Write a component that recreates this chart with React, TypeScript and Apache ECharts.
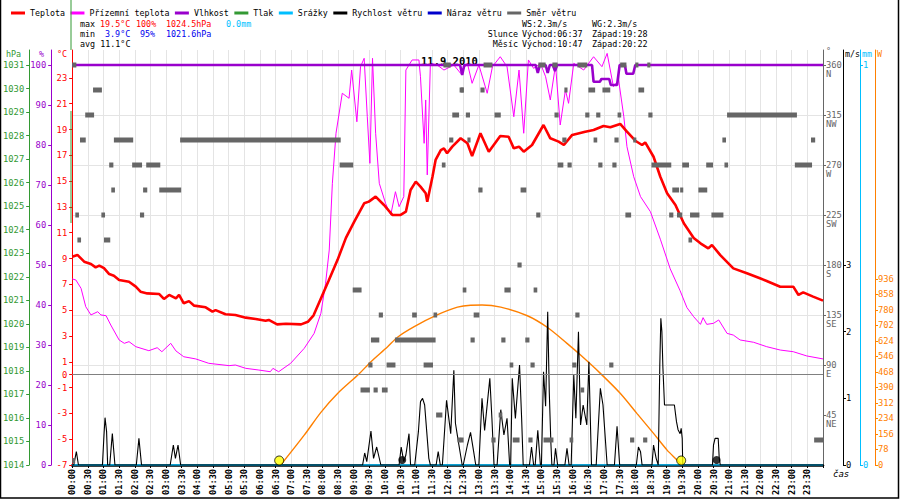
import React, { useEffect, useRef } from 'react';
import * as echarts from 'echarts';

const MONO = "'DejaVu Sans Mono', monospace";

// x values are minutes since midnight
const tempData: [number, number][] = [
  [0, 9.14], [10, 9.28], [23, 8.76], [36, 8.58], [45, 8.32], [52, 8.45], [61, 8.25], [71, 7.8], [80, 7.67], [90, 7.34],
  [109, 7.2], [122, 6.82], [131, 6.43], [144, 6.3], [167, 6.25], [176, 5.87], [186, 6.18], [199, 5.92], [205, 6.18],
  [214, 5.53], [224, 5.7], [234, 5.35], [256, 5.22], [269, 4.88], [275, 5.0], [294, 4.68], [313, 4.63], [333, 4.42],
  [352, 4.32], [371, 4.18], [377, 4.24], [393, 3.9], [410, 3.95], [439, 3.9], [452, 4.1], [463, 4.6], [477, 5.9],
  [492, 7.3], [509, 8.9], [525, 10.6], [541, 11.86], [560, 13.28], [569, 13.41], [582, 13.8], [598, 13.15], [614, 12.38],
  [630, 12.38], [640, 12.63], [649, 14.31], [659, 14.96], [668, 14.57], [678, 14.06], [681, 13.41], [691, 15.34],
  [697, 16.64], [707, 17.41], [713, 17.54], [719, 17.16], [729, 17.67], [745, 18.32], [758, 17.93], [767, 16.95],
  [783, 18.71], [799, 17.28], [821, 18.5], [837, 18.44], [847, 17.54], [857, 17.67], [866, 17.28], [882, 17.8],
  [904, 19.35], [917, 18.32], [933, 18.06], [943, 17.8], [959, 18.58], [984, 18.83], [1000, 18.96], [1019, 19.27],
  [1032, 19.17], [1051, 19.43], [1064, 18.83], [1080, 18.13], [1093, 17.8], [1099, 18.0], [1115, 16.89], [1128, 15.34],
  [1141, 14.06], [1157, 13.15], [1173, 11.73], [1192, 10.6], [1205, 10.18], [1220, 9.79], [1227, 10.05], [1243, 9.27],
  [1268, 8.24], [1294, 7.86], [1319, 7.47], [1332, 7.26], [1358, 6.82], [1383, 6.82], [1393, 6.18], [1402, 6.38],
  [1421, 6.05], [1440, 5.74],
];

const feelData: [number, number][] = [
  [0, 7.42], [7, 7.34], [17, 6.69], [26, 5.27], [36, 4.63], [49, 4.88], [55, 4.63], [65, 4.57], [74, 3.85], [90, 2.69],
  [100, 2.43], [109, 2.56], [122, 2.17], [147, 1.86], [163, 2.09], [172, 1.78], [189, 2.43], [199, 1.84], [214, 1.39],
  [237, 1.22], [262, 0.88], [301, 0.7], [313, 0.75], [333, 0.49], [358, 0.36], [380, 0.23], [385, 0.49], [396, 0.23],
  [419, 0.88], [445, 2.04], [464, 3.2], [477, 4.76], [486, 7.08], [493, 9.66], [499, 14.83], [506, 18.71], [518, 21.81],
  [531, 21.42], [536, 23.61], [546, 19.6], [553, 23.87], [560, 24.52], [566, 19.99], [571, 16.38], [576, 24.52],
  [582, 18.71], [589, 14.83], [601, 13.28], [611, 12.38], [620, 14.18], [627, 13.02], [636, 13.8], [640, 23.61],
  [652, 24.39], [665, 24.39], [668, 23.09], [675, 17.93], [678, 21.29], [681, 15.48], [687, 24.13], [700, 24.0],
  [713, 23.61], [732, 24.0], [745, 23.35], [758, 24.13], [767, 22.58], [780, 24.0], [796, 21.81], [806, 23.87],
  [821, 24.64], [834, 23.87], [847, 19.99], [857, 23.61], [866, 18.71], [875, 24.39], [885, 23.74], [898, 24.13],
  [908, 23.09], [917, 21.29], [927, 24.0], [936, 19.35], [946, 22.06], [952, 21.03], [962, 24.13], [981, 23.61],
  [1000, 24.64], [1016, 23.87], [1026, 24.9], [1038, 22.32], [1048, 22.84], [1058, 19.99], [1064, 17.67], [1077, 15.34],
  [1090, 13.8], [1109, 12.63], [1128, 10.5], [1147, 8.2], [1166, 6.5], [1179, 5.2], [1192, 4.49], [1205, 3.9],
  [1210, 4.42], [1217, 3.9], [1230, 3.98], [1240, 4.24], [1256, 3.2], [1268, 3.07], [1281, 2.69], [1307, 2.51],
  [1332, 2.17], [1358, 1.91], [1383, 1.78], [1409, 1.45], [1440, 1.22],
];

const humidityData: [number, number][] = [
  [0, 100], [744, 100], [748, 97.5], [752, 100], [889, 100], [893, 98], [897, 100], [908, 100], [912, 98], [916, 100],
  [922, 100], [926, 98.5], [930, 100], [997, 100], [1000, 95.8], [1012, 95.8], [1015, 96.5], [1030, 96.5], [1033, 95],
  [1045, 95], [1050, 100], [1060, 100], [1063, 97.8], [1076, 97.8], [1080, 100], [1440, 100],
];

const windSpeedData: [number, number][] = [
  [0, 0], [3, 0], [8, 0.2], [12, 0],
  [58, 0], [61, 0.45], [63, 0.71], [66, 0.5], [68, 0],
  [72, 0], [77, 0.47], [82, 0],
  [123, 0], [128, 0.4], [133, 0],
  [188, 0], [194, 0.3], [198, 0.1], [203, 0.3], [208, 0],
  [557, 0], [561, 0.18], [565, 0.05], [573, 0.51], [578, 0.1], [584, 0.27], [592, 0],
  [627, 0], [631, 0.27], [636, 0.05], [640, 0.15], [646, 0.47], [649, 0],
  [657, 0], [664, 0.5], [668, 0.95], [672, 1.0], [676, 0.9], [680, 0.5], [684, 0.1], [687, 0],
  [698, 0], [702, 0.2], [706, 0],
  [710, 0], [718, 0.97], [726, 0.47], [732, 1.42], [735, 0.63], [740, 0.38], [748, 0],
  [750, 0], [758, 0.3], [764, 0.49], [770, 0.2], [774, 0],
  [780, 0], [786, 1.0], [791, 0.52], [801, 1.3], [805, 0.7], [809, 0],
  [815, 0], [822, 0.83], [828, 0.45], [834, 0.7], [839, 0],
  [841, 0], [844, 1.3], [850, 0.7], [858, 1.5], [862, 0.7], [865, 0],
  [877, 0], [881, 0.27], [885, 0],
  [888, 0], [893, 0.52], [898, 0],
  [900, 0], [904, 1.4], [908, 0.88], [912, 2.3], [915, 1.1], [918, 0.35], [920, 0],
  [924, 0], [927, 0.25], [931, 0],
  [945, 0], [949, 0.25], [953, 0],
  [957, 0], [962, 1.35], [966, 0.7], [971, 2.0], [975, 0.6], [980, 0.9], [987, 0.6], [991, 1.55], [996, 0],
  [1005, 0], [1013, 1.15], [1018, 0.9], [1026, 0],
  [1040, 0], [1045, 0.58], [1050, 0],
  [1082, 0], [1086, 0.27], [1090, 0.2], [1093, 0],
  [1112, 0], [1115, 0.3], [1120, 0.1], [1124, 0], [1127, 1.5], [1129, 2.2], [1131, 2.0], [1133, 1.45], [1136, 0.9],
  [1155, 0.9], [1159, 0.65], [1162, 0.53], [1166, 0.47], [1168, 0.55], [1170, 0.4], [1171, 0],
  [1228, 0], [1230, 0.3], [1233, 0.4], [1239, 0.4], [1241, 0.1], [1243, 0],
  [1440, 0],
];

const precipData: [number, number][] = [[0, 0], [1440, 0]];
const pressureData: [number, number][] = [];
const gustData: [number, number][] = [];

const solarData: [number, number][] = [
  [400, 0], [445, 150], [477, 265], [509, 360], [550, 458], [573, 520], [605, 595], [624, 643], [656, 696], [700, 755],
  [739, 794], [764, 804], [786, 805], [822, 794], [873, 751], [911, 693], [949, 612], [975, 553], [1013, 461],
  [1051, 361], [1083, 260], [1115, 159], [1141, 75], [1160, 25], [1169, 0],
];

// [start minute, end minute, direction in degrees]
const windDirBlocks: [number, number, number][] = [
  [0, 8, 360], [0, 4, 4], [40, 57, 337.5], [25, 42, 315], [15, 26, 292.5], [80, 117, 292.5], [207, 515, 292.5],
  [71, 79, 270], [115, 134, 270], [142, 169, 270], [513, 539, 270], [75, 82, 247.5], [136, 144, 247.5], [167, 209, 247.5],
  [6, 13, 225], [56, 63, 225], [130, 138, 225], [10, 17, 202.5], [61, 73, 202.5],
  [538, 555, 157.5], [749, 756, 157.5], [588, 596, 135], [652, 661, 135], [693, 700, 135],
  [573, 589, 112.5], [619, 697, 112.5], [568, 576, 90], [603, 620, 90], [674, 692, 90],
  [553, 571, 67.5], [578, 586, 67.5], [594, 605, 67.5], [698, 710, 45],
  [743, 751, 337.5], [729, 742, 315], [755, 763, 315], [723, 731, 292.5], [758, 764, 292.5], [709, 716, 270],
  [712, 726, 360], [739, 746, 22.5],
  [789, 806, 360], [894, 908, 360], [921, 931, 360], [969, 988, 360], [1051, 1063, 360], [1080, 1086, 360], [1103, 1109, 360],
  [745, 751, 337.5], [783, 791, 337.5], [944, 950, 337.5], [990, 1003, 337.5], [1017, 1032, 337.5], [1086, 1097, 337.5],
  [810, 822, 315], [925, 933, 315], [984, 992, 315], [1005, 1013, 315], [1046, 1053, 315], [1105, 1113, 315],
  [940, 948, 292.5], [1000, 1007, 292.5], [1040, 1048, 292.5], [1076, 1082, 292.5],
  [931, 942, 270], [950, 958, 270], [1009, 1017, 270], [1036, 1044, 270], [1111, 1149, 270], [1170, 1183, 270],
  [779, 787, 247.5], [860, 871, 247.5], [1151, 1164, 247.5], [1166, 1172, 247.5], [1201, 1218, 247.5],
  [890, 898, 225], [1061, 1072, 225], [1145, 1153, 225], [1160, 1170, 225], [1185, 1203, 225],
  [1182, 1189, 202.5], [854, 862, 180], [829, 841, 157.5], [885, 892, 157.5],
  [770, 781, 135], [965, 973, 135], [764, 772, 112.5], [823, 831, 112.5], [869, 877, 112.5],
  [839, 846, 90], [879, 887, 90], [959, 967, 90], [1030, 1038, 90], [975, 982, 67.5], [818, 825, 45],
  [745, 749, 22.5], [804, 812, 22.5], [845, 858, 22.5], [875, 883, 22.5], [904, 923, 22.5], [954, 961, 22.5],
  [1070, 1078, 22.5], [1095, 1103, 22.5],
  [1256, 1390, 315], [1247, 1254, 292.5], [1417, 1425, 292.5], [1216, 1229, 270], [1251, 1258, 270], [1386, 1419, 270],
  [1226, 1249, 225], [1423, 1440, 22.5],
];

const sunEvents: [number, number][] = [[397, 0], [1168, 0]];
const moonEvents: [number, number][] = [[633, 0], [1236, 0]];

const tempTicks = [-7, -5, -3, -1, 0, 1, 3, 5, 7, 9, 11, 13, 15, 17, 19, 21, 23];
const humidityTicks = [0, 10, 20, 30, 40, 50, 60, 70, 80, 90, 100];
const pressureTicks = [1014, 1015, 1016, 1017, 1018, 1019, 1020, 1021, 1022, 1023, 1024, 1025, 1026, 1027, 1028, 1029, 1030, 1031];
const dirTicks = [45, 90, 135, 180, 225, 270, 315, 360];
const dirNames = ['NE', 'E', 'SE', 'S', 'SW', 'W', 'NW', 'N'];
const windTicks = [0, 1, 2, 3];
const precipTicks = [0, 1];
const solarTicks = [0, 78, 156, 234, 312, 390, 468, 546, 624, 702, 780, 858, 936];

const legendNames = ['Teplota', 'Přízemní teplota', 'Vlhkost', 'Tlak', 'Srážky', 'Rychlost větru', 'Náraz větru', 'Směr větru'];

const C = {
  red: '#ff0000', magenta: '#ff00ff', purple: '#9900cc', green: '#339933', cyan: '#00bfff', black: '#000000',
  blue: '#0000cc', gray: '#666666', orange: '#ff8000', grid: '#e4e4e4', minBlue: '#0000ee',
};

const hm = (m: number) => `${String(Math.floor(m / 60)).padStart(2, '0')}:${String(m % 60).padStart(2, '0')}`;

const txt = (x: number, y: number, text: string, fill: string, opts: any = {}) => ({
  type: 'text', x, y, z: 50, silent: true,
  style: {
    text, fill, fontFamily: MONO, fontSize: opts.fontSize ?? 8.4, fontWeight: opts.fontWeight ?? 'normal',
    fontStyle: opts.fontStyle ?? 'normal', align: opts.align ?? 'left', verticalAlign: 'middle',
  },
});

function mkY(o: any) {
  return {
    type: 'value', position: o.position, offset: o.offset, min: o.min, max: o.max,
    axisLine: { show: true, onZero: false, lineStyle: { color: o.color, width: 1 } },
    axisTick: { show: true, length: 3, customValues: o.ticks, lineStyle: { color: o.color } },
    axisLabel: {
      show: true, customValues: o.ticks, color: o.color, fontFamily: MONO, fontSize: 8.8, margin: o.margin,
      formatter: o.fmt ?? ((v: number) => String(v)), lineHeight: o.lineHeight,
    },
    splitLine: { show: false },
  };
}

export default function App() {
  const ref = useRef<HTMLDivElement>(null);
  useEffect(() => {
    document.body.style.margin = '0';
    const chart = echarts.init(ref.current!, undefined, { renderer: 'svg' });

    const dirAxis: any = mkY({
      position: 'right', offset: 0, color: C.gray, min: 0, max: 373.5, ticks: dirTicks, margin: 3, lineHeight: 9,
      fmt: (v: number) => {
        const i = dirTicks.indexOf(v);
        return i >= 0 ? `\n${v}\n${dirNames[i]}` : '';
      },
    });
    dirAxis.interval = 45;
    dirAxis.splitLine = { show: true, showMinLine: false, showMaxLine: false, lineStyle: { color: C.grid, width: 1 } };

    const option: any = {
      animation: false,
      backgroundColor: '#ffffff',
      textStyle: { fontFamily: MONO },
      grid: { left: 71, right: 77, top: 50, bottom: 35, containLabel: false },
      title: {
        text: '11.9.2010', left: 416, top: 50,
        textStyle: { fontFamily: MONO, fontSize: 10.5, fontWeight: 'bold', color: '#000' },
      },
      legend: {
        left: 6, top: 4, itemWidth: 14, itemHeight: 3, itemGap: 5.5, icon: 'rect', selectedMode: false,
        textStyle: { fontFamily: MONO, fontSize: 8.3, color: '#000' },
        data: legendNames,
      },
      xAxis: {
        type: 'value', min: 0, max: 1440, interval: 30,
        axisLine: { show: true, onZero: false, lineStyle: { color: '#000', width: 2.5 } },
        axisTick: { show: true, length: 3, lineStyle: { color: '#000' } },
        axisLabel: {
          rotate: 90, margin: 4, fontFamily: MONO, fontSize: 8.6, fontWeight: 'bold', color: '#000',
          formatter: (v: number) => (v >= 1440 ? '' : hm(v)),
        },
        splitLine: { show: true, lineStyle: { color: C.grid, width: 1 } },
      },
      yAxis: [
        mkY({ position: 'left', offset: 0, color: C.red, min: -7, max: 25.1625, ticks: tempTicks, margin: 5 }),
        mkY({ position: 'left', offset: 21, color: C.purple, min: 0, max: 103.75, ticks: humidityTicks, margin: 5 }),
        mkY({ position: 'left', offset: 43, color: C.green, min: 1014, max: 1031.6375, ticks: pressureTicks, margin: 5 }),
        dirAxis,
        mkY({ position: 'right', offset: 20, color: C.black, min: 0, max: 6.225, ticks: windTicks, margin: 3 }),
        mkY({ position: 'right', offset: 37, color: C.cyan, min: 0, max: 1.0375, ticks: precipTicks, margin: 3 }),
        mkY({ position: 'right', offset: 52, color: C.orange, min: 0, max: 2088, ticks: solarTicks, margin: 3 }),
      ],
      series: [
        {
          name: 'Teplota', type: 'line', yAxisIndex: 0, data: tempData, showSymbol: false, z: 6,
          color: C.red, lineStyle: { color: C.red, width: 2.6 },
          markLine: {
            silent: true, symbol: 'none', label: { show: false },
            lineStyle: { color: '#808080', width: 1, type: 'solid' }, data: [{ yAxis: 0 }],
          },
        },
        {
          name: 'Přízemní teplota', type: 'line', yAxisIndex: 0, data: feelData, showSymbol: false, z: 5,
          color: C.magenta, lineStyle: { color: C.magenta, width: 1 }, clip: false,
        },
        {
          name: 'Vlhkost', type: 'line', yAxisIndex: 1, data: humidityData, showSymbol: false, z: 7,
          color: C.purple, lineStyle: { color: C.purple, width: 2.6 },
        },
        {
          name: 'Tlak', type: 'line', yAxisIndex: 2, data: pressureData, showSymbol: false,
          color: C.green, lineStyle: { color: C.green, width: 1 },
        },
        {
          name: 'Srážky', type: 'line', yAxisIndex: 5, data: precipData, showSymbol: false, z: 3,
          color: C.cyan, lineStyle: { color: C.cyan, width: 1.6 },
        },
        {
          name: 'Rychlost větru', type: 'line', yAxisIndex: 4, data: windSpeedData, showSymbol: false, z: 4,
          color: C.black, lineStyle: { color: C.black, width: 1.1 },
        },
        {
          name: 'Náraz větru', type: 'line', yAxisIndex: 4, data: gustData, showSymbol: false,
          color: C.blue, lineStyle: { color: C.blue, width: 1 },
        },
        {
          name: 'Směr větru', type: 'custom', yAxisIndex: 3, data: windDirBlocks, z: 8,
          color: C.gray, itemStyle: { color: C.gray },
          encode: { x: [0, 1], y: 2 },
          clip: false,
          renderItem: (_p: any, api: any) => {
            const a = api.coord([api.value(0), api.value(2)]);
            const b = api.coord([api.value(1), api.value(2)]);
            return {
              type: 'rect',
              shape: { x: a[0], y: a[1] - 2.5, width: Math.max(b[0] - a[0], 3), height: 5 },
              style: { fill: C.gray },
            };
          },
        },
        {
          name: 'Slunce', type: 'line', yAxisIndex: 6, data: solarData, showSymbol: false, smooth: 0.3, z: 2,
          color: C.orange, lineStyle: { color: C.orange, width: 1.4 },
        },
        {
          name: 'sun', type: 'scatter', yAxisIndex: 6, data: sunEvents, z: 9, symbol: 'circle', symbolSize: 9,
          symbolOffset: [0, -4.5], itemStyle: { color: '#ffff00', borderColor: '#000', borderWidth: 1 },
        },
        {
          name: 'moon', type: 'scatter', yAxisIndex: 6, data: moonEvents, z: 9, symbol: 'circle', symbolSize: 8,
          symbolOffset: [0, -5], itemStyle: { color: '#000' },
        },
      ],
      graphic: [
        { type: 'rect', z: 60, silent: true, shape: { x: 0.5, y: -2, width: 898, height: 500 }, style: { fill: 'none', stroke: '#000', lineWidth: 1.5 } },
        { type: 'line', z: 40, silent: true, shape: { x1: 71, y1: 0, x2: 71, y2: 50 }, style: { stroke: C.green, lineWidth: 1 } },
        { type: 'line', z: 40, silent: true, shape: { x1: 71, y1: 111, x2: 71, y2: 223 }, style: { stroke: C.green, lineWidth: 1 } },
        txt(80, 24, 'max', '#000'), txt(100, 24, '19.5°C', C.red), txt(136, 24, '100%', C.red),
        txt(166, 24, '1024.5hPa', C.red), txt(226, 24, '0.0mm', C.cyan),
        txt(522, 24, 'WS:2.3m/s', '#000'), txt(592, 24, 'WG:2.3m/s', '#000'),
        txt(80, 34, 'min', '#000'), txt(105, 34, '3.9°C', C.minBlue), txt(140, 34, '95%', C.minBlue),
        txt(166, 34, '1021.6hPa', C.minBlue),
        txt(518, 34, 'Slunce', '#000', { align: 'right' }), txt(522, 34, 'Východ:06:37', '#000'), txt(592, 34, 'Západ:19:28', '#000'),
        txt(80, 44, 'avg 11.1°C', '#000'),
        txt(518, 44, 'Měsíc', '#000', { align: 'right' }), txt(522, 44, 'Východ:10:47', '#000'), txt(592, 44, 'Západ:20:22', '#000'),
        txt(6, 54, 'hPa', C.green), txt(39, 54, '%', C.purple), txt(57, 54, '°C', C.red),
        txt(826, 51, '°', C.gray), txt(845, 54, 'm/s', '#000'), txt(862, 54, 'mm', C.cyan), txt(877, 54, 'W', C.orange),
        txt(833, 474, 'čas', '#000', { fontStyle: 'italic', fontSize: 9 }),
      ],
    };
    chart.setOption(option);
    return () => chart.dispose();
  }, []);
  return <div ref={ref} style={{ position: 'absolute', left: 0, top: 0, width: 900, height: 500 }} />;
}
